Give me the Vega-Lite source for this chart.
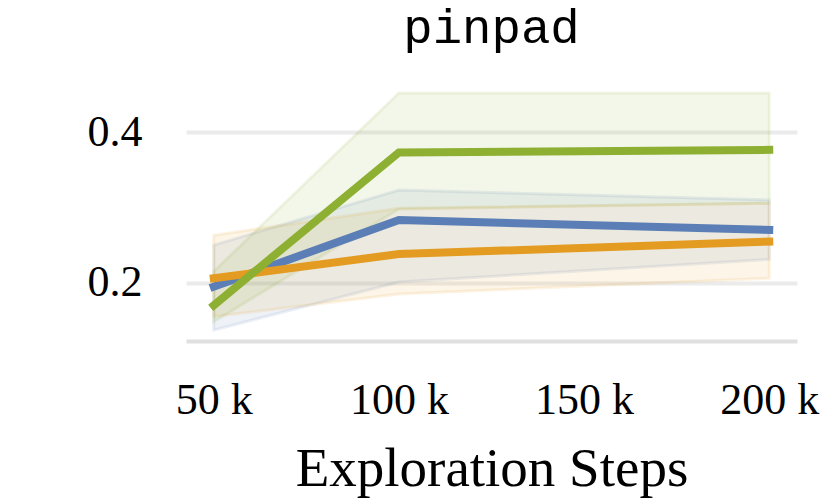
{
  "$schema": "https://vega.github.io/schema/vega-lite/v6.json",
  "autosize": "none",
  "width": 611,
  "height": 260,
  "padding": {"left": 186, "top": 81, "right": 32, "bottom": 162},
  "background": "white",
  "config": {"view": {"stroke": null}},
  "title": {"text": "pinpad", "font": "Liberation Mono", "fontSize": 49, "fontWeight": "normal", "color": "black", "anchor": "middle", "baseline": "top", "offset": 28},
  "data": {"values": [
    {"step": 50000, "method": "A", "mean": 0.1947, "lo": 0.137, "hi": 0.25},
    {"step": 100000, "method": "A", "mean": 0.2834, "lo": 0.201, "hi": 0.323},
    {"step": 200000, "method": "A", "mean": 0.270, "lo": 0.231, "hi": 0.31},
    {"step": 50000, "method": "B", "mean": 0.2059, "lo": 0.155, "hi": 0.263},
    {"step": 100000, "method": "B", "mean": 0.238, "lo": 0.185, "hi": 0.299},
    {"step": 200000, "method": "B", "mean": 0.2546, "lo": 0.206, "hi": 0.3055},
    {"step": 50000, "method": "C", "mean": 0.170, "lo": 0.148, "hi": 0.215},
    {"step": 100000, "method": "C", "mean": 0.373, "lo": 0.298, "hi": 0.452},
    {"step": 200000, "method": "C", "mean": 0.3765, "lo": 0.3055, "hi": 0.452}
  ]},
  "encoding": {
    "x": {"field": "step", "type": "quantitative",
      "scale": {"domain": [42500, 207500], "nice": false, "zero": false},
      "axis": {"values": [50000, 100000, 150000, 200000], "labelExpr": "datum.value/1000 + ' k'",
        "grid": false, "ticks": false, "tickSize": 0, "domainColor": "#e0e0e0", "domainWidth": 4,
        "labelFont": "Liberation Serif", "labelFontSize": 44, "labelColor": "black", "labelBaseline": "alphabetic", "labelPadding": 72, "labelFlush": false,
        "title": "Exploration Steps", "titleFont": "Liberation Serif", "titleFontSize": 55, "titleFontWeight": "normal", "titleColor": "black", "titleBaseline": "alphabetic", "titleY": 144}}
  },
  "layer": [
    {
      "mark": {"type": "area", "fillOpacity": 0.1, "strokeOpacity": 0.12, "strokeWidth": 3},
      "encoding": {
        "y": {"field": "lo", "type": "quantitative",
          "scale": {"domain": [0.1225, 0.468], "nice": false, "zero": false},
          "axis": {"values": [0.2, 0.4], "format": ".1f", "grid": true, "gridColor": "#ebebeb", "gridWidth": 4, "domain": false, "ticks": false, "tickSize": 0,
            "labelFont": "Liberation Serif", "labelFontSize": 44, "labelColor": "black", "labelBaseline": "middle", "labelPadding": 44, "title": null}},
        "y2": {"field": "hi"},
        "color": {"field": "method", "type": "nominal", "scale": {"domain": ["A", "B", "C"], "range": ["#5a7eb5", "#e49b22", "#8eb032"]}, "legend": null},
        "stroke": {"field": "method", "type": "nominal", "scale": {"domain": ["A", "B", "C"], "range": ["#5a7eb5", "#e49b22", "#8eb032"]}, "legend": null},
        "order": {"field": "method"}
      }
    },
    {
      "mark": {"type": "line", "strokeWidth": 8, "strokeCap": "square"},
      "encoding": {
        "y": {"field": "mean", "type": "quantitative"},
        "color": {"field": "method", "type": "nominal", "scale": {"domain": ["A", "B", "C"], "range": ["#5a7eb5", "#e49b22", "#8eb032"]}, "legend": null}
      }
    }
  ]
}
